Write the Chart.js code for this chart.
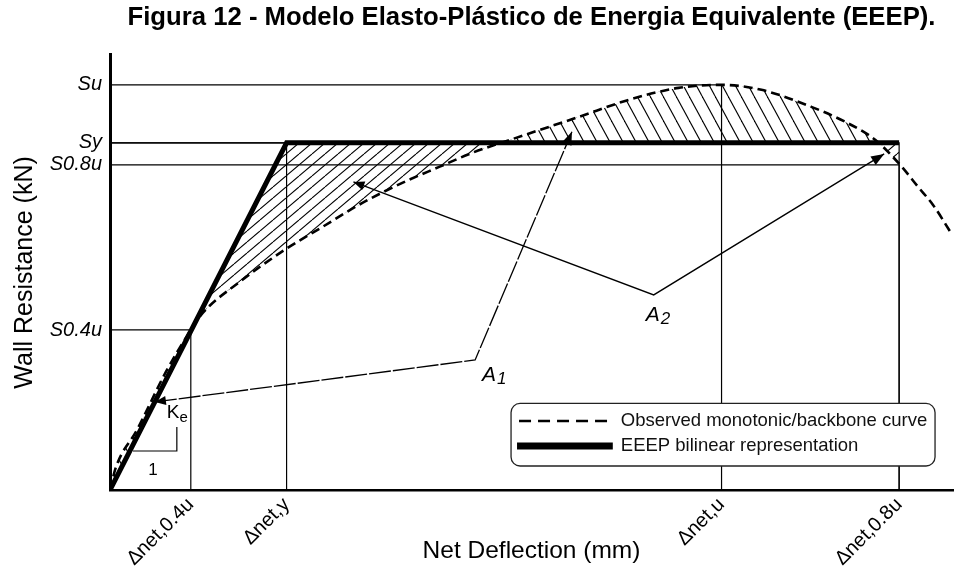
<!DOCTYPE html>
<html><head><meta charset="utf-8">
<script src="https://cdn.jsdelivr.net/npm/chart.js@4.4.1/dist/chart.umd.min.js"></script>
<style>html,body{margin:0;padding:0;background:#fff;overflow:hidden}#wrap{width:957px;height:569px}</style>
</head><body><div id="wrap"><canvas id="c" width="957" height="569"></canvas></div>
<script>
// ---------- data ----------
const chartTitle = 'Figura 12 - Modelo Elasto-Plástico de Energia Equivalente (EEEP).';
const xAxisTitle = 'Net Deflection (mm)';
const yAxisTitle = 'Wall Resistance (kN)';
const xTickValues = [8.1, 17.7, 61.3, 79.1];
const xTickLabels = ['Δnet,0.4u', 'Δnet,y', 'Δnet,u', 'Δnet,0.8u'];
const yTickValues = [16.0, 32.5, 34.7, 40.5];
const yTickLabels = ['S0.4u', 'S0.8u', 'Sy', 'Su'];
const seriesLabels = ['Observed monotonic/backbone curve', 'EEEP bilinear representation'];
const obsX = [0, 0.6, 2.7, 5.6, 8.1, 9.3, 13.0, 17.5, 21.3, 25.3, 29.3, 33.0, 36.3, 40.7, 47.0, 52.0, 57.0, 61.3, 65.3, 70.3, 73.7, 76.7, 79.2, 81.0, 82.5, 84.3];
const obsY = [0, 2.3, 6.0, 11.8, 16.0, 17.7, 20.8, 24.0, 26.3, 28.7, 30.7, 32.3, 33.7, 35.2, 37.3, 39.0, 40.2, 40.5, 40.0, 38.3, 36.8, 35.0, 32.5, 30.3, 28.5, 25.7];
const eeepX = [0, 17.7, 79.1];
const eeepY = [0, 34.7, 34.7];
// guide corners: horizontal from y-axis to (x,y), vertical from (x,y) down to x-axis
const guideX = [8.1, 17.7, 61.3, 79.1, 79.1];
const guideY = [16.0, 34.7, 40.5, 32.5, 34.7];
const areaLabels = ['A', 'A'];
const areaSubs = ['1', '2'];

// ---------- annotation layout (data units) ----------
const leaders = [
  {pts: [[4.5, 8.8], [36.6, 13.0], [46.3, 35.8]], dash: [22, 2]},
  {pts: [[24.4, 30.8], [54.5, 19.5], [77.6, 33.6]], dash: []}
];
const areaLabelPos = [[37.3, 11.5], [53.7, 17.5]];
const kePos = [5.7, 7.7];
const slopeTri = [[2.3, 3.9], [6.7, 3.9], [6.7, 6.3]];
const slopeOnePos = [4.3, 2.0];
const legendBox = [40.2, 8.65, 82.7, 2.4];
const legendRowsY = [6.9, 4.4];
const legendSample = [41.0, 50.4];
const legendTextX = 51.2;

const FONT = "'Liberation Sans', Arial, sans-serif";

function makeHatch(w, h, dir) {
  const c = document.createElement('canvas');
  c.width = w; c.height = h;
  const g = c.getContext('2d');
  g.strokeStyle = '#000';
  g.lineWidth = 1.1;
  for (const dx of [-w, 0, w]) {
    g.beginPath();
    if (dir === '/') { g.moveTo(dx, h); g.lineTo(dx + w, 0); }
    else { g.moveTo(dx, 0); g.lineTo(dx + w, h); }
    g.stroke();
  }
  return g.createPattern(c, 'repeat');
}
const hatchA1 = makeHatch(13, 11, '/');
const hatchA2 = makeHatch(13, 24, '\\');

function arrowhead(ctx, from, to, len, half) {
  const a = Math.atan2(to[1] - from[1], to[0] - from[0]);
  ctx.beginPath();
  ctx.moveTo(to[0], to[1]);
  ctx.lineTo(to[0] - len * Math.cos(a) + half * Math.sin(a), to[1] - len * Math.sin(a) - half * Math.cos(a));
  ctx.lineTo(to[0] - len * Math.cos(a) - half * Math.sin(a), to[1] - len * Math.sin(a) + half * Math.cos(a));
  ctx.closePath();
  ctx.fill();
}

const annot = {
  id: 'annot',
  afterDatasetsDraw(chart) {
    const {ctx, scales: {x, y}} = chart;
    const P = p => [x.getPixelForValue(p[0]), y.getPixelForValue(p[1])];
    ctx.save();
    ctx.strokeStyle = '#000';
    ctx.fillStyle = '#000';
    // leaders with arrows
    leaders.forEach(L => {
      const pts = L.pts.map(P);
      ctx.lineWidth = 1.3;
      ctx.setLineDash(L.dash);
      ctx.beginPath();
      pts.forEach((p, i) => i ? ctx.lineTo(p[0], p[1]) : ctx.moveTo(p[0], p[1]));
      ctx.stroke();
      ctx.setLineDash([]);
      arrowhead(ctx, pts[1], pts[0], 11, 4.5);
      arrowhead(ctx, pts[1], pts[2], 13, 5);
    });
    // slope triangle
    const st = slopeTri.map(P);
    ctx.lineWidth = 1.2;
    ctx.beginPath();
    ctx.moveTo(st[0][0], st[0][1]); ctx.lineTo(st[1][0], st[1][1]); ctx.lineTo(st[2][0], st[2][1]);
    ctx.stroke();
    ctx.textBaseline = 'middle';
    ctx.textAlign = 'center';
    const one = P(slopeOnePos);
    ctx.font = '17px ' + FONT;
    ctx.fillText('1', one[0], one[1]);
    // Ke
    const ke = P(kePos);
    ctx.textAlign = 'left';
    ctx.font = '19px ' + FONT;
    ctx.fillText('K', ke[0], ke[1]);
    const kw = ctx.measureText('K').width;
    ctx.font = '15px ' + FONT;
    ctx.fillText('e', ke[0] + kw, ke[1] + 5);
    // area labels
    areaLabelPos.forEach((pos, i) => {
      const p = P(pos);
      ctx.font = 'italic 21px ' + FONT;
      ctx.fillText(areaLabels[i], p[0], p[1]);
      const w = ctx.measureText(areaLabels[i]).width;
      ctx.font = 'italic 17px ' + FONT;
      ctx.fillText(areaSubs[i], p[0] + w + 1, p[1] + 4);
    });
    // legend box
    const b0 = P([legendBox[0], legendBox[1]]), b1 = P([legendBox[2], legendBox[3]]);
    const r = 9;
    ctx.lineWidth = 1.3;
    ctx.strokeStyle = '#222';
    ctx.beginPath();
    ctx.moveTo(b0[0] + r, b0[1]);
    ctx.arcTo(b1[0], b0[1], b1[0], b1[1], r);
    ctx.arcTo(b1[0], b1[1], b0[0], b1[1], r);
    ctx.arcTo(b0[0], b1[1], b0[0], b0[1], r);
    ctx.arcTo(b0[0], b0[1], b1[0], b0[1], r);
    ctx.closePath();
    ctx.fillStyle = '#fff';
    ctx.fill();
    ctx.stroke();
    ctx.fillStyle = '#111';
    ctx.strokeStyle = '#000';
    const r1 = P([legendSample[0], legendRowsY[0]]), r1e = P([legendSample[1], legendRowsY[0]]);
    ctx.lineWidth = 2.6;
    ctx.setLineDash([12, 7]);
    ctx.beginPath(); ctx.moveTo(r1[0], r1[1]); ctx.lineTo(r1e[0] - 4, r1[1]); ctx.stroke();
    ctx.setLineDash([]);
    const r2 = P([legendSample[0] - 0.2, legendRowsY[1]]), r2e = P([legendSample[1], legendRowsY[1]]);
    ctx.lineWidth = 7;
    ctx.beginPath(); ctx.moveTo(r2[0], r2[1]); ctx.lineTo(r2e[0], r2[1]); ctx.stroke();
    ctx.font = '18.5px ' + FONT;
    ctx.textAlign = 'left';
    const tx = x.getPixelForValue(legendTextX);
    ctx.fillText(seriesLabels[0], tx, r1[1]);
    ctx.fillText(seriesLabels[1], tx, r2[1]);
    ctx.restore();
  }
};

const guideSets = guideX.map((gx, i) => ({
  label: 'guide' + i,
  data: [{x: 0, y: guideY[i]}, {x: gx, y: guideY[i]}, {x: gx, y: 0}],
  borderColor: '#000', borderWidth: 1.2, pointRadius: 0, fill: false, tension: 0
}));

new Chart(document.getElementById('c'), {
  type: 'line',
  data: {
    datasets: [
      {
        label: seriesLabels[0],
        data: obsX.map((v, i) => ({x: v, y: obsY[i]})),
        borderColor: '#000', borderWidth: 2.6, borderDash: [9, 5],
        pointRadius: 0, fill: false, cubicInterpolationMode: 'monotone'
      },
      {
        label: seriesLabels[1],
        data: eeepX.map((v, i) => ({x: v, y: eeepY[i]})),
        borderColor: '#000', borderWidth: 5, tension: 0,
        pointRadius: ctx => ctx.dataIndex === 0 ? 3 : 0,
        pointBackgroundColor: '#000', pointBorderWidth: 0,
        borderCapStyle: 'butt',
        fill: {target: 0, above: hatchA1, below: hatchA2}
      },
      ...guideSets
    ]
  },
  options: {
    responsive: false,
    animation: false,
    events: [],
    layout: {padding: {top: 0, right: 2, left: 0, bottom: 0}},
    plugins: {
      legend: {display: false},
      tooltip: {enabled: false},
      title: {
        display: true, text: chartTitle, color: '#000', fullSize: false,
        font: {family: FONT, size: 25.7, weight: 'bold'},
        padding: {top: 2, bottom: 22}
      }
    },
    scales: {
      x: {
        type: 'linear', min: 0, max: 84.5,
        afterBuildTicks: s => { s.ticks = xTickValues.map(v => ({value: v})); },
        afterFit: s => { s.height = 79; },
        ticks: {
          autoSkip: false, minRotation: 45, maxRotation: 45, padding: 3,
          color: '#000', font: {family: FONT, size: 20},
          callback: v => xTickLabels[xTickValues.indexOf(v)]
        },
        grid: {display: false, drawTicks: false},
        border: {display: true, color: '#000', width: 2.5},
        title: {display: true, text: xAxisTitle, color: '#000', font: {family: FONT, size: 24.5}, padding: {top: 0, bottom: 3}}
      },
      y: {
        type: 'linear', min: 0, max: 43.5,
        afterBuildTicks: s => { s.ticks = yTickValues.map(v => ({value: v})); },
        afterFit: s => { s.width = 110; },
        ticks: {
          autoSkip: false, padding: 8, color: '#000',
          font: {family: FONT, size: 20, style: 'italic'},
          callback: v => yTickLabels[yTickValues.indexOf(v)]
        },
        grid: {display: false, drawTicks: false},
        border: {display: true, color: '#000', width: 3},
        title: {display: true, text: yAxisTitle, color: '#000', font: {family: FONT, size: 25}, padding: {top: 10, bottom: 0}}
      }
    }
  },
  plugins: [annot]
});
</script>
</body></html>
